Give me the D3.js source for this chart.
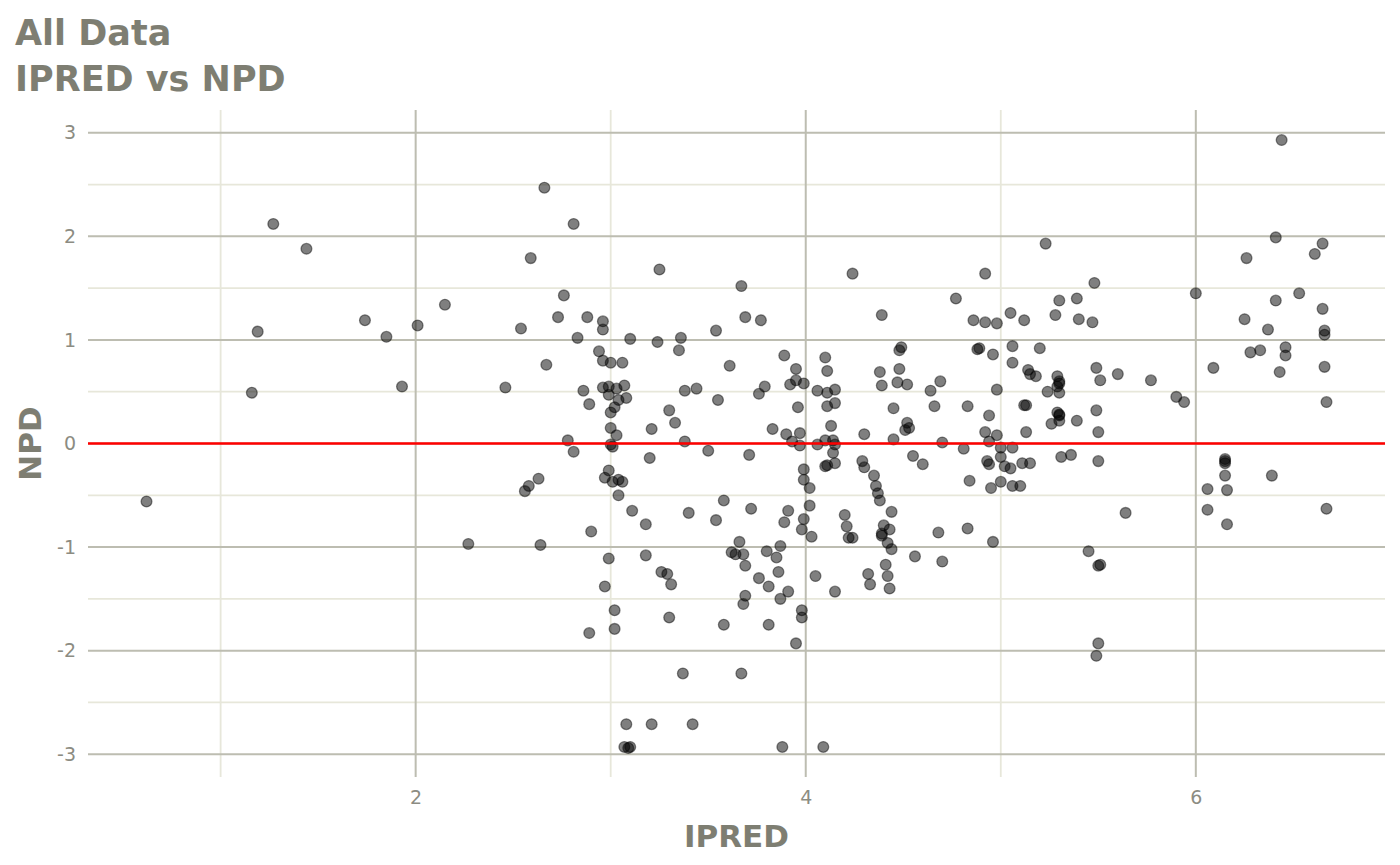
<!DOCTYPE html>
<html>
<head>
<meta charset="utf-8">
<script src="https://cdn.jsdelivr.net/npm/d3@7"></script>
<style>
  html, body { margin: 0; padding: 0; background: #ffffff; }
  svg { display: block; }
  text { font-family: "DejaVu Sans", sans-serif; }
</style>
</head>
<body>
<svg id="chart" width="1400" height="865"></svg>
<script>
// ---- Data ----
const titleLines = ["All Data", "IPRED vs NPD"];
const xLabel = "IPRED";
const yLabel = "NPD";
const xTicks = [2, 4, 6];
const xMinorTicks = [1, 3, 5];
const yTicks = [-3, -2, -1, 0, 1, 2, 3];
const yMinorTicks = [-2.5, -1.5, -0.5, 0.5, 1.5, 2.5];
const referenceLine = 0;

const ipred = [
  0.62, 1.16, 1.19, 1.27, 1.44, 1.74, 1.85, 1.93, 2.01, 2.15,
  2.27, 2.46, 2.54, 2.56, 2.58, 2.59, 2.63, 2.64, 2.66, 2.67,
  2.73, 2.76, 2.78, 2.81, 2.81, 2.83, 2.86, 2.88, 2.89, 2.90,
  2.89, 2.94, 2.96, 2.96, 2.96, 2.96, 2.97, 2.97, 2.99, 2.99,
  2.99, 2.99, 3.00, 3.00, 3.00, 3.00, 3.01, 3.03, 3.02, 3.03,
  3.04, 3.01, 3.04, 3.06, 3.04, 3.02, 3.02, 3.06, 3.07, 3.08,
  3.10, 3.11, 3.08, 3.07, 3.10, 3.09, 3.18, 3.18, 3.20, 3.21,
  3.21, 3.24, 3.25, 3.26, 3.29, 3.30, 3.30, 3.31, 3.33, 3.35,
  3.36, 3.38, 3.38, 3.37, 3.40, 3.42, 3.44, 3.50, 3.54, 3.55,
  3.54, 3.58, 3.58, 3.61, 3.62, 3.64, 3.66, 3.67, 3.67, 3.68,
  3.68, 3.69, 3.69, 3.69, 3.71, 3.72, 3.76, 3.76, 3.77, 3.79,
  3.80, 3.81, 3.81, 3.83, 3.85, 3.86, 3.87, 3.87, 3.88, 3.89,
  3.89, 3.90, 3.91, 3.91, 3.92, 3.93, 3.95, 3.95, 3.95, 3.96,
  3.97, 3.97, 3.98, 3.98, 3.98, 3.99, 3.99, 3.99, 3.99, 4.02,
  4.02, 4.03, 4.05, 4.06, 4.06, 4.09, 4.10, 4.11, 4.11, 4.15,
  4.11, 4.15, 4.13, 4.10, 4.14, 4.15, 4.14, 4.11, 4.10, 4.15,
  4.15, 4.20, 4.21, 4.22, 4.24, 4.24, 4.29, 4.30, 4.30, 4.32,
  4.33, 4.35, 4.36, 4.37, 4.38, 4.38, 4.39, 4.39, 4.40, 4.39,
  4.39, 4.43, 4.42, 4.44, 4.41, 4.42, 4.43, 4.44, 4.45, 4.45,
  4.47, 4.48, 4.48, 4.49, 4.52, 4.51, 4.52, 4.53, 4.55, 4.56,
  4.60, 4.64, 4.66, 4.68, 4.69, 4.70, 4.70, 4.77, 4.81, 4.83,
  4.83, 4.84, 4.86, 4.88, 4.89, 4.92, 4.92, 4.92, 4.93, 4.94,
  4.94, 4.94, 4.95, 4.96, 4.96, 4.98, 4.98, 4.98, 5.00, 5.00,
  5.02, 5.05, 5.00, 5.05, 5.06, 5.06, 5.06, 5.06, 5.10, 5.11,
  5.12, 5.13, 5.12, 5.13, 5.14, 5.15, 5.15, 5.18, 5.20, 5.23,
  5.24, 5.26, 5.28, 5.29, 5.30, 5.30, 5.29, 5.30, 5.29, 5.30,
  5.30, 5.30, 5.30, 5.31, 5.36, 5.39, 5.39, 5.40, 5.45, 5.47,
  5.48, 5.49, 5.49, 5.50, 5.50, 5.51, 5.50, 5.51, 5.50, 5.49,
  5.60, 5.64, 5.77, 5.90, 5.94, 6.00, 6.06, 6.06, 6.09, 6.15,
  6.15, 6.15, 6.15, 6.16, 6.16, 6.25, 6.26, 6.28, 6.33, 6.37,
  6.39, 6.41, 6.41, 6.43, 6.44, 6.46, 6.46, 6.53, 6.61, 6.65,
  6.65, 6.66, 6.66, 6.66, 6.67, 6.67
];

const npd = [
  -0.56, 0.49, 1.08, 2.12, 1.88, 1.19, 1.03, 0.55, 1.14, 1.34,
  -0.97, 0.54, 1.11, -0.46, -0.41, 1.79, -0.34, -0.98, 2.47, 0.76,
  1.22, 1.43, 0.03, -0.08, 2.12, 1.02, 0.51, 1.22, 0.38, -0.85,
  -1.83, 0.89, 1.18, 1.10, 0.54, 0.80, -0.33, -1.38, -1.11, -0.26,
  0.47, 0.55, 0.78, 0.30, 0.15, -0.01, -0.03, 0.08, 0.35, 0.53,
  0.42, -0.37, -0.35, -0.37, -0.50, -1.61, -1.79, 0.78, 0.56, 0.44,
  1.01, -0.65, -2.71, -2.93, -2.93, -2.94, -1.08, -0.78, -0.14, 0.14,
  -2.71, 0.98, 1.68, -1.24, -1.26, 0.32, -1.68, -1.36, 0.20, 0.90,
  1.02, 0.51, 0.02, -2.22, -0.67, -2.71, 0.53, -0.07, 1.09, 0.42,
  -0.74, -0.55, -1.75, 0.75, -1.05, -1.07, -0.95, 1.52, -2.22, -1.07,
  -1.55, 1.22, -1.18, -1.47, -0.11, -0.63, -1.30, 0.48, 1.19, 0.55,
  -1.04, -1.75, -1.38, 0.14, -1.10, -1.24, -0.99, -1.50, -2.93, 0.85,
  -0.76, 0.09, -0.65, -1.43, 0.57, 0.02, 0.72, 0.61, -1.93, 0.35,
  0.10, -0.02, -1.61, -1.68, -0.83, -0.25, -0.73, -0.35, 0.58, -0.43,
  -0.60, -0.90, -1.28, 0.51, -0.01, -2.93, 0.83, 0.70, 0.49, 0.52,
  0.36, 0.39, 0.17, 0.03, 0.03, -0.01, -0.09, -0.21, -0.22, -0.19,
  -1.43, -0.69, -0.80, -0.91, -0.91, 1.64, -0.17, -0.23, 0.09, -1.26,
  -1.36, -0.31, -0.41, -0.48, -0.55, 0.69, 1.24, 0.56, -0.79, -0.87,
  -0.89, -0.83, -0.96, -1.02, -1.17, -1.28, -1.40, -0.66, 0.34, 0.04,
  0.59, 0.72, 0.90, 0.93, 0.57, 0.13, 0.20, 0.15, -0.12, -1.09,
  -0.20, 0.51, 0.36, -0.86, 0.60, 0.01, -1.14, 1.40, -0.05, -0.82,
  0.36, -0.36, 1.19, 0.91, 0.92, 1.64, 1.17, 0.11, -0.17, -0.20,
  0.27, 0.02, -0.43, 0.86, -0.95, 1.16, 0.52, 0.08, -0.04, -0.13,
  -0.22, -0.24, -0.37, 1.26, 0.94, 0.78, -0.04, -0.41, -0.41, -0.19,
  1.19, 0.37, 0.37, 0.11, 0.71, 0.67, -0.19, 0.65, 0.92, 1.93,
  0.50, 0.19, 1.24, 0.65, 0.58, 0.60, 0.55, 0.49, 0.30, 0.28,
  0.27, 0.22, 1.38, -0.13, -0.11, 1.40, 0.22, 1.20, -1.04, 1.17,
  1.55, 0.73, 0.32, 0.11, -0.17, 0.61, -1.18, -1.17, -1.93, -2.05,
  0.67, -0.67, 0.61, 0.45, 0.40, 1.45, -0.44, -0.64, 0.73, -0.15,
  -0.19, -0.17, -0.31, -0.45, -0.78, 1.20, 1.79, 0.88, 0.90, 1.10,
  -0.31, 1.99, 1.38, 0.69, 2.93, 0.93, 0.85, 1.45, 1.83, 1.30,
  1.93, 1.09, 1.05, 0.74, 0.40, -0.63
];

// ---- Layout ----
const svg = d3.select("#chart");
const panel = { left: 88, right: 1385, top: 110, bottom: 777 };

const x = d3.scaleLinear().domain([0.32, 6.97]).range([panel.left, panel.right]);
const y = d3.scaleLinear().domain([-3.22, 3.22]).range([panel.bottom, panel.top]);

const majorColor = "#bdbdb1";
const minorColor = "#e7e7da";
const textGrey = "#7e7e72";
const tickGrey = "#8c8c82";

const grid = svg.append("g");
// minor grid
grid.selectAll(".ym").data(yMinorTicks).join("line")
  .attr("x1", panel.left).attr("x2", panel.right)
  .attr("y1", d => y(d)).attr("y2", d => y(d))
  .attr("stroke", minorColor).attr("stroke-width", 1.8);
grid.selectAll(".xm").data(xMinorTicks).join("line")
  .attr("y1", panel.top).attr("y2", panel.bottom)
  .attr("x1", d => x(d)).attr("x2", d => x(d))
  .attr("stroke", minorColor).attr("stroke-width", 1.8);
// major grid
grid.selectAll(".yM").data(yTicks).join("line")
  .attr("x1", panel.left).attr("x2", panel.right)
  .attr("y1", d => y(d)).attr("y2", d => y(d))
  .attr("stroke", majorColor).attr("stroke-width", 2);
grid.selectAll(".xM").data(xTicks).join("line")
  .attr("y1", panel.top).attr("y2", panel.bottom)
  .attr("x1", d => x(d)).attr("x2", d => x(d))
  .attr("stroke", majorColor).attr("stroke-width", 2);

// axes (labels only) - plain hyphen minus like the reference
const plain = d => String(d);
const yAxis = d3.axisLeft(y).tickValues(yTicks).tickSize(0).tickPadding(12)
  .tickFormat(plain);
const gy = svg.append("g").attr("transform", `translate(${panel.left},0)`).call(yAxis);
gy.select(".domain").remove();
gy.selectAll("text").attr("fill", tickGrey).style("font-size", "19px")
  .style("font-family", "'DejaVu Sans', sans-serif");

const xAxis = d3.axisBottom(x).tickValues(xTicks).tickSize(0).tickPadding(14)
  .tickFormat(plain);
const gx = svg.append("g").attr("transform", `translate(0,${panel.bottom})`).call(xAxis);
gx.select(".domain").remove();
gx.selectAll("text").attr("fill", tickGrey).style("font-size", "19px")
  .style("font-family", "'DejaVu Sans', sans-serif");

// points
const pts = ipred.map((v, i) => ({ x: v, y: npd[i] }));
svg.append("g").selectAll("circle").data(pts).join("circle")
  .attr("cx", d => x(d.x)).attr("cy", d => y(d.y))
  .attr("r", 5.4)
  .attr("fill", "rgba(0,0,0,0.5)")
  .attr("stroke", "rgba(0,0,0,0.45)")
  .attr("stroke-width", 1.3);

// reference line
svg.append("line")
  .attr("x1", panel.left).attr("x2", panel.right)
  .attr("y1", y(referenceLine)).attr("y2", y(referenceLine))
  .attr("stroke", "#ff0000").attr("stroke-width", 2.5);

// titles
svg.selectAll(".title").data(titleLines).join("text")
  .attr("x", 15).attr("y", (d, i) => 45 + i * 46)
  .attr("fill", textGrey).style("font-size", "35px").style("font-weight", "bold")
  .text(d => d);

svg.append("text")
  .attr("x", (panel.left + panel.right) / 2).attr("y", 847)
  .attr("text-anchor", "middle")
  .attr("fill", textGrey).style("font-size", "31px").style("font-weight", "bold")
  .text(xLabel);

svg.append("text")
  .attr("transform", `translate(41,${(panel.top + panel.bottom) / 2}) rotate(-90)`)
  .attr("text-anchor", "middle")
  .attr("fill", textGrey).style("font-size", "31px").style("font-weight", "bold")
  .text(yLabel);
</script>
</body>
</html>
